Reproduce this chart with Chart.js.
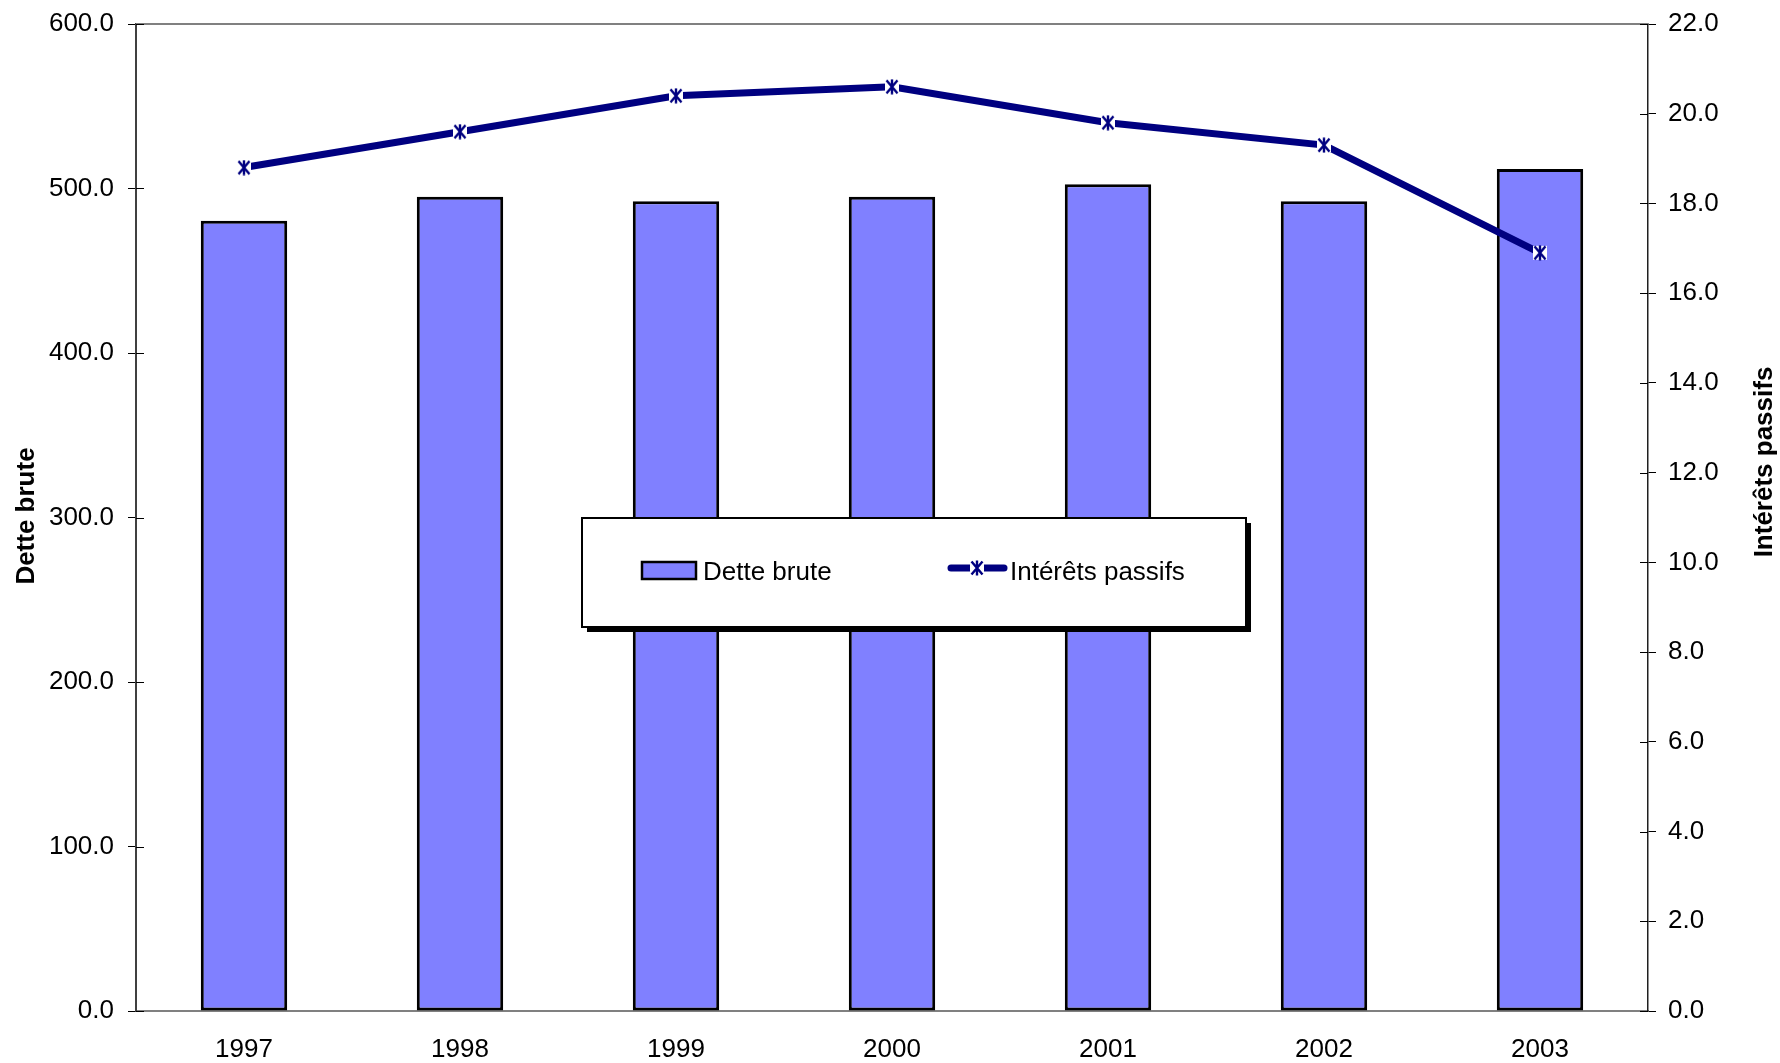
<!DOCTYPE html>
<html>
<head>
<meta charset="utf-8">
<script src="https://cdn.jsdelivr.net/npm/chart.js@4/dist/chart.umd.min.js"></script>
<style>
html,body{margin:0;padding:0;background:#fff;}
canvas{display:block;}
</style>
</head>
<body>
<canvas id="c" width="1780" height="1063"></canvas>
<script>
const categories = ['1997', '1998', '1999', '2000', '2001', '2002', '2003'];
const detteBrute = [480.4, 495.0, 492.3, 495.0, 502.6, 492.3, 511.8];
const interetsPassifs = [18.8, 19.6, 20.4, 20.6, 19.8, 19.3, 16.9];
const leftTitle = 'Dette brute';
const rightTitle = 'Intérêts passifs';

const FONT = '"Liberation Sans", Arial, sans-serif';
const BAR_FILL = '#8080FF';
const LINE_COL = '#000080';

function makeMarker() {
  const m = document.createElement('canvas');
  m.width = 16; m.height = 16;
  const c = m.getContext('2d');
  c.fillStyle = '#fff';
  c.fillRect(1, 1, 14, 14);
  c.strokeStyle = LINE_COL;
  c.lineWidth = 2.4;
  c.beginPath();
  c.moveTo(2.5, 1.5); c.lineTo(13.5, 14.5);
  c.moveTo(13.5, 1.5); c.lineTo(2.5, 14.5);
  c.moveTo(8, 0.5); c.lineTo(8, 15.5);
  c.stroke();
  return m;
}
const marker = makeMarker();

const extras = {
  id: 'extras',
  afterDraw(chart) {
    const ctx = chart.ctx;
    const a = chart.chartArea;
    ctx.save();
    ctx.strokeStyle = '#808080';
    ctx.lineWidth = 2;
    ctx.beginPath();
    ctx.moveTo(a.left, a.top);
    ctx.lineTo(a.right, a.top);
    ctx.stroke();
    ctx.strokeStyle = '#000';
    ctx.lineWidth = 1;
    const ys = chart.scales.y, y2 = chart.scales.y2;
    ys.ticks.forEach((t, i) => {
      const p = Math.round(ys.getPixelForTick(i)) + 0.5;
      ctx.beginPath(); ctx.moveTo(a.left, p); ctx.lineTo(a.left + 8, p); ctx.stroke();
    });
    y2.ticks.forEach((t, i) => {
      const p = Math.round(y2.getPixelForTick(i)) + 0.5;
      ctx.beginPath(); ctx.moveTo(a.right - 8, p); ctx.lineTo(a.right, p); ctx.stroke();
    });
    ctx.fillStyle = '#000';
    ctx.font = 'bold 26px ' + FONT;
    ctx.textAlign = 'center';
    ctx.textBaseline = 'alphabetic';
    ctx.save();
    ctx.translate(34, 516);
    ctx.rotate(-Math.PI / 2);
    ctx.fillText(leftTitle, 0, 0);
    ctx.restore();
    ctx.save();
    ctx.translate(1772, 462);
    ctx.rotate(-Math.PI / 2);
    ctx.fillText(rightTitle, 0, 0);
    ctx.restore();

    // legend box
    const lx = 582, ly = 518, lw = 664, lh = 109;
    ctx.fillStyle = '#000';
    ctx.fillRect(lx + 5, ly + 5, lw, lh);
    ctx.fillStyle = '#fff';
    ctx.fillRect(lx, ly, lw, lh);
    ctx.strokeStyle = '#000';
    ctx.lineWidth = 2;
    ctx.strokeRect(lx, ly, lw, lh);
    const ds = chart.data.datasets;
    ctx.fillStyle = BAR_FILL;
    ctx.fillRect(642, 562, 54, 17);
    ctx.lineWidth = 2.5;
    ctx.strokeRect(642, 562, 54, 17);
    ctx.fillStyle = '#000';
    ctx.font = '26px ' + FONT;
    ctx.textAlign = 'left';
    ctx.textBaseline = 'alphabetic';
    ctx.fillText(ds[1].label, 703, 580);
    ctx.strokeStyle = LINE_COL;
    ctx.lineWidth = 7;
    ctx.lineCap = 'round';
    ctx.beginPath(); ctx.moveTo(951, 568); ctx.lineTo(1004, 568); ctx.stroke();
    ctx.lineCap = 'butt';
    ctx.drawImage(marker, 977 - 8, 568 - 8);
    ctx.fillStyle = '#000';
    ctx.fillText(ds[0].label, 1010, 580);
    ctx.restore();
  }
};

new Chart(document.getElementById('c'), {
  type: 'bar',
  data: {
    labels: categories,
    datasets: [
      {
        type: 'line',
        label: 'Intérêts passifs',
        data: interetsPassifs,
        yAxisID: 'y2',
        order: 0,
        borderColor: LINE_COL,
        borderWidth: 7,
        tension: 0,
        pointStyle: marker,
        pointRadius: 8,
        pointBorderColor: LINE_COL,
        pointBackgroundColor: '#fff'
      },
      {
        type: 'bar',
        label: 'Dette brute',
        data: detteBrute,
        yAxisID: 'y',
        order: 1,
        backgroundColor: BAR_FILL,
        borderColor: '#000',
        borderWidth: 3,
        borderSkipped: false,
        barPercentage: 0.4,
        categoryPercentage: 1.0
      }
    ]
  },
  options: {
    responsive: false,
    devicePixelRatio: 1,
    animation: false,
    layout: { padding: { top: 24, left: 0, right: 0, bottom: 0 } },
    plugins: { legend: { display: false }, tooltip: { enabled: false } },
    scales: {
      x: {
        offset: true,
        grid: { display: false, drawTicks: false },
        border: { display: true, color: '#808080', width: 2 },
        ticks: { color: '#000', font: { family: FONT, size: 26 }, padding: 23, maxRotation: 0 },
        afterFit(s) { s.height = 52; s.paddingLeft = 0; s.paddingRight = 0; }
      },
      y: {
        position: 'left',
        min: 0, max: 600,
        grid: { display: true, drawOnChartArea: false, drawTicks: true, tickLength: 8, color: '#000' },
        border: { display: true, color: '#404040', width: 2 },
        ticks: { stepSize: 100, color: '#000', font: { family: FONT, size: 26 }, padding: 14,
                 callback: v => Number(v).toFixed(1) },
        afterFit(s) { s.width = 136; s.paddingTop = 0; s.paddingBottom = 0; }
      },
      y2: {
        position: 'right',
        min: 0, max: 22,
        grid: { display: true, drawOnChartArea: false, drawTicks: true, tickLength: 8, color: '#000' },
        border: { display: true, color: '#202020', width: 1.5 },
        ticks: { stepSize: 2, color: '#000', font: { family: FONT, size: 26 }, padding: 12,
                 callback: v => Number(v).toFixed(1) },
        afterFit(s) { s.width = 132; s.paddingTop = 0; s.paddingBottom = 0; }
      }
    }
  },
  plugins: [extras]
});
</script>
</body>
</html>
